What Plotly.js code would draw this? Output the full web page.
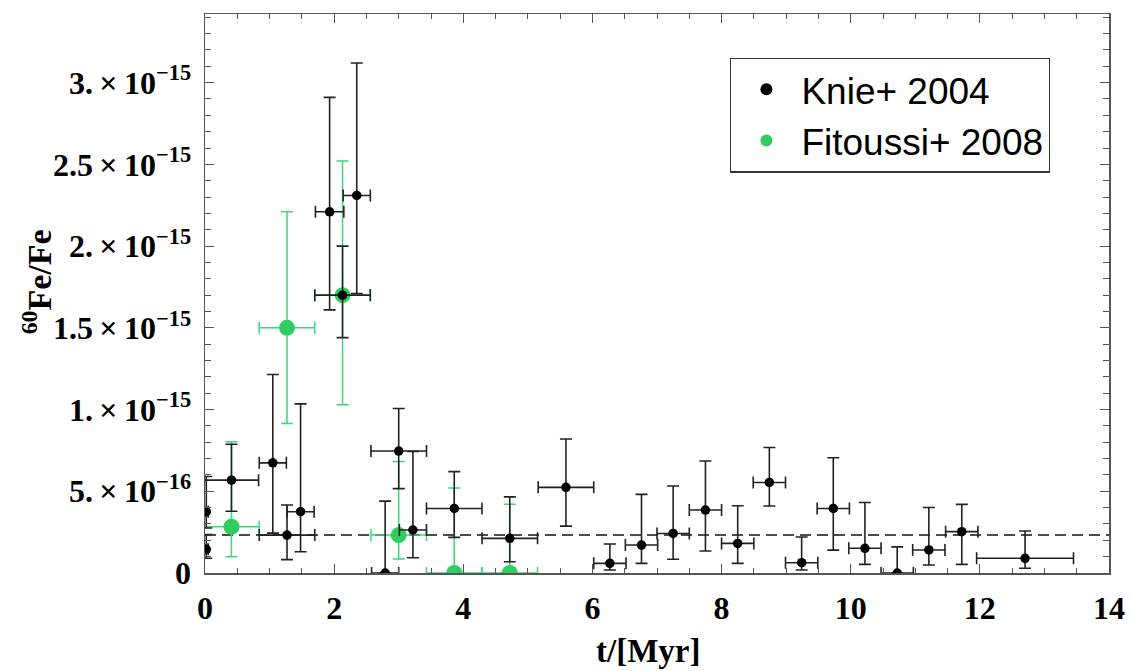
<!DOCTYPE html>
<html>
<head>
<meta charset="utf-8">
<script src="https://cdn.plot.ly/plotly-3.0.1.min.js"></script>
<style>
  html, body { margin: 0; padding: 0; background: #ffffff; }
  #chart { width: 1132px; height: 671px; }
</style>
</head>
<body>
<div id="chart"></div>
<script>
// ---- Knie+ 2004 (time in Myr, 60Fe/Fe ratio) ----
const knieT       = [0.02, 0.02, 0.41, 1.05, 1.27, 1.48, 1.93, 2.13, 2.35, 2.79, 3.00, 3.22, 3.86, 4.72, 5.59, 6.27, 6.76, 7.25, 7.75, 8.25, 8.74, 9.24, 9.73, 10.22, 10.72, 11.21, 11.72, 12.70];
const knieTErr    = [0.03, 0.03, 0.42, 0.21, 0.43, 0.21, 0.22, 0.43, 0.21, 0.21, 0.43, 0.21, 0.43, 0.43, 0.43, 0.25, 0.25, 0.25, 0.25, 0.25, 0.25, 0.25, 0.25, 0.25, 0.25, 0.25, 0.25, 0.75];
const knieRatio   = [3.75e-16, 1.45e-16, 5.68e-16, 6.74e-16, 2.32e-16, 3.75e-16, 2.21e-15, 1.70e-15, 2.31e-15, 0, 7.46e-16, 2.63e-16, 3.95e-16, 2.12e-16, 5.24e-16, 0.59e-16, 1.71e-16, 2.42e-16, 3.85e-16, 1.81e-16, 5.54e-16, 0.63e-16, 3.95e-16, 1.51e-16, 0, 1.41e-16, 2.53e-16, 0.90e-16];
const knieErrUp   = [2.15e-16, 0.90e-16, 2.20e-16, 5.40e-16, 1.84e-16, 6.60e-16, 7.00e-16, 3.00e-16, 8.10e-16, 4.40e-16, 2.60e-16, 4.80e-16, 2.25e-16, 2.54e-16, 2.96e-16, 1.18e-16, 3.10e-16, 2.90e-16, 3.00e-16, 2.30e-16, 2.14e-16, 1.57e-16, 3.10e-16, 2.80e-16, 1.60e-16, 2.60e-16, 1.67e-16, 1.67e-16];
const knieErrDown = [1.00e-16, 0.55e-16, 1.90e-16, 4.30e-16, 1.50e-16, 2.45e-16, 6.00e-16, 2.60e-16, 6.00e-16, 0, 2.30e-16, 1.70e-16, 1.77e-16, 1.43e-16, 2.37e-16, 0.41e-16, 1.12e-16, 1.58e-16, 2.50e-16, 1.22e-16, 1.44e-16, 0.45e-16, 2.55e-16, 0.98e-16, 0, 0.92e-16, 2.00e-16, 0.61e-16];

// ---- Fitoussi+ 2008 ----
const fitT       = [0.41, 1.27, 2.13, 3.00, 3.86, 4.72];
const fitTErr    = [0.43, 0.43, 0.43, 0.43, 0.43, 0.43];
const fitRatio   = [2.83e-16, 1.50e-15, 1.70e-15, 2.32e-16, 0, 0];
const fitErrUp   = [5.20e-16, 7.10e-16, 8.20e-16, 4.50e-16, 5.20e-16, 4.20e-16];
const fitErrDown = [1.83e-16, 5.85e-16, 6.70e-16, 1.46e-16, 0, 0];

// ---- mean level (dashed line) ----
const meanLevelT = [0, 14];
const meanLevel  = [2.32e-16, 2.32e-16];

// ---- axis ticks ----
const yTickVals = [0, 5e-16, 1e-15, 1.5e-15, 2e-15, 2.5e-15, 3e-15];
const yTickText = ["0", "5.\u2009\u00d7\u200910<sup>\u221216</sup>", "1.\u2009\u00d7\u200910<sup>\u221215</sup>", "1.5\u2009\u00d7\u200910<sup>\u221215</sup>", "2.\u2009\u00d7\u200910<sup>\u221215</sup>", "2.5\u2009\u00d7\u200910<sup>\u221215</sup>", "3.\u2009\u00d7\u200910<sup>\u221215</sup>"];
const xTickVals = [0, 2, 4, 6, 8, 10, 12, 14];
const xTickText = ["0", "2", "4", "6", "8", "10", "12", "14"];

const green = '#2fcc62';
const greenBar = '#3ad877';
const ink = '#111111';
const frame = '#555555';

const traces = [
  {
    x: meanLevelT, y: meanLevel, mode: 'lines', showlegend: false, hoverinfo: 'skip',
    line: { color: ink, width: 1.5, dash: '11px,6px' }
  },
  {
    name: 'Fitoussi+ 2008', x: fitT, y: fitRatio, mode: 'markers', type: 'scatter',
    legendrank: 2,
    marker: { color: green, size: 16 },
    error_x: { type: 'data', array: fitTErr, color: greenBar, thickness: 1.5, width: 6 },
    error_y: { type: 'data', symmetric: false, array: fitErrUp, arrayminus: fitErrDown, color: greenBar, thickness: 1.5, width: 6 }
  },
  {
    name: 'Knie+ 2004', x: knieT, y: knieRatio, mode: 'markers', type: 'scatter',
    legendrank: 1,
    marker: { color: '#000000', size: 9.5 },
    error_x: { type: 'data', array: knieTErr, color: '#222222', thickness: 1.6, width: 6 },
    error_y: { type: 'data', symmetric: false, array: knieErrUp, arrayminus: knieErrDown, color: '#222222', thickness: 1.6, width: 6 }
  }
];

const tickFont = { family: 'Liberation Serif, Times New Roman, serif', size: 32, color: '#000', weight: 'bold' };

const layout = {
  width: 1132, height: 671,
  margin: { l: 205, r: 23, t: 14, b: 98 },
  paper_bgcolor: '#ffffff', plot_bgcolor: '#ffffff',
  showlegend: true,
  legend: {
    x: 0.581, y: 0.922, xanchor: 'left', yanchor: 'top',
    bgcolor: '#ffffff', bordercolor: '#333333', borderwidth: 1.2,
    font: { family: 'Liberation Sans, Arial, Helvetica, sans-serif', size: 37, color: '#000' },
    itemsizing: 'constant', itemwidth: 60, tracegroupgap: 0
  },
  xaxis: {
    range: [0, 14], showgrid: false, zeroline: false,
    showline: true, linecolor: frame, linewidth: 1.5, mirror: 'allticks',
    ticks: 'inside', ticklen: 9, tickwidth: 1.2, tickcolor: frame,
    tickvals: xTickVals, ticktext: xTickText, tickfont: tickFont, ticklabelstandoff: 6,
    minor: { dtick: 0.5, tick0: 0, ticks: 'inside', ticklen: 5, tickwidth: 1, tickcolor: frame, showgrid: false }
  },
  yaxis: {
    range: [0, 3.42e-15], showgrid: false, zeroline: false,
    showline: true, linecolor: frame, linewidth: 1.5, mirror: 'allticks',
    ticks: 'inside', ticklen: 9, tickwidth: 1.2, tickcolor: frame,
    tickvals: yTickVals, ticktext: yTickText, tickfont: tickFont, ticklabelstandoff: 6,
    minor: { dtick: 1e-16, tick0: 0, ticks: 'inside', ticklen: 6, tickwidth: 1, tickcolor: frame, showgrid: false }
  },
  annotations: [
    {
      text: '<b>t/[Myr]</b>', xref: 'paper', yref: 'paper', x: 0.49, y: 0, yshift: -78,
      xanchor: 'center', yanchor: 'middle', showarrow: false,
      font: { family: 'Liberation Serif, Times New Roman, serif', size: 33, color: '#000' }
    },
    {
      text: '<b><sup>60</sup>Fe/Fe</b>', xref: 'paper', yref: 'paper', x: 0, xshift: -168, y: 0.52,
      xanchor: 'center', yanchor: 'middle', showarrow: false, textangle: -90,
      font: { family: 'Liberation Serif, Times New Roman, serif', size: 34, color: '#000' }
    }
  ]
};

Plotly.newPlot('chart', traces, layout, { displayModeBar: false, staticPlot: true });
</script>
</body>
</html>
